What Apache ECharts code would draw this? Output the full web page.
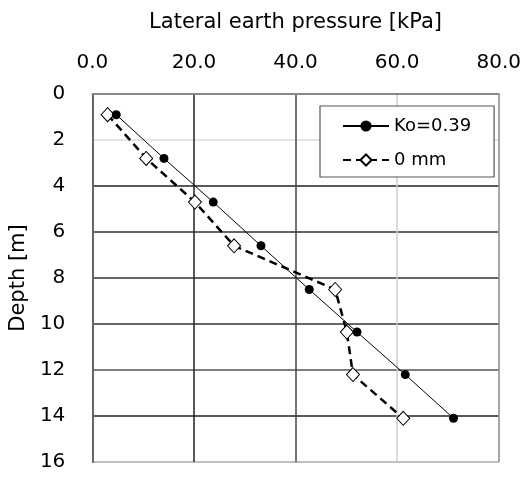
<!DOCTYPE html>
<html>
<head>
<meta charset="utf-8">
<script src="https://cdn.jsdelivr.net/npm/echarts@6/dist/echarts.min.js"></script>
<style>
  html, body { margin: 0; padding: 0; background: #fff; }
  #earth-pressure-chart { width: 524px; height: 478px; }
</style>
</head>
<body>
<div id="earth-pressure-chart"></div>
<script>
// depth of each measuring point [m]
const depths = [0.9, 2.8, 4.7, 6.6, 8.5, 10.35, 12.2, 14.1];
// lateral earth pressure [kPa]
const koValues = [4.7, 14.1, 23.8, 33.2, 42.7, 52.1, 61.6, 71.1];
const mm0Values = [3.0, 10.6, 20.2, 27.9, 47.8, 50.1, 51.3, 61.2];
const seriesNames = ["Ko=0.39", "0 mm"];
const xTicks = [0, 20, 40, 60, 80];
const yTicks = [0, 2, 4, 6, 8, 10, 12, 14, 16];

let myChart = echarts.init(document.getElementById("earth-pressure-chart"));

function pairs(values) {
  let out = [];
  for (let i = 0; i < values.length; i++) {
    out.push([values[i], depths[i]]);
  }
  return out;
}

let font = "DejaVu Sans, Arial, sans-serif";

let option = {
  animation: false,
  grid: {
    left: 92,
    right: 23,
    top: 94,
    bottom: 16,
    containLabel: false
  },
  legend: {
    orient: "vertical",
    left: 320,
    top: 106,
    padding: [11, 23, 8, 22],
    itemWidth: 46,
    itemHeight: 14,
    itemGap: 16,
    backgroundColor: "#fff",
    borderColor: "#555",
    borderWidth: 1.2,
    textStyle: {
      fontFamily: font,
      fontSize: 18,
      color: "#000"
    },
    data: seriesNames
  },
  xAxis: {
    type: "value",
    position: "top",
    min: xTicks[0],
    max: xTicks[xTicks.length - 1],
    interval: 20,
    name: "Lateral earth pressure [kPa]",
    nameLocation: "middle",
    nameGap: 61,
    nameTextStyle: { fontFamily: font, fontSize: 21, color: "#000" },
    axisLine: { show: true, lineStyle: { color: "#888", width: 2 } },
    axisTick: { show: false },
    axisLabel: {
      fontFamily: font,
      fontSize: 20,
      color: "#000",
      margin: 21,
      formatter: function(v) { return v.toFixed(1); }
    },
    splitLine: {
      show: true,
      lineStyle: { color: ["#888", "#222", "#444", "#ccc", "#888"], width: 1.5 }
    }
  },
  yAxis: {
    type: "value",
    inverse: true,
    min: yTicks[0],
    max: yTicks[yTicks.length - 1],
    interval: 2,
    name: "Depth [m]",
    nameLocation: "middle",
    nameGap: 52,
    nameTextStyle: { fontFamily: font, fontSize: 21, color: "#000" },
    axisLine: { show: true, lineStyle: { color: "#666", width: 2 } },
    axisTick: { show: false },
    axisLabel: {
      fontFamily: font,
      fontSize: 20,
      color: "#000",
      margin: 27
    },
    splitLine: {
      show: true,
      lineStyle: {
        color: ["#888", "#ddd", "#222", "#333", "#333", "#333", "#555", "#222", "#aaa"],
        width: 1.5
      }
    }
  },
  series: [
    {
      name: seriesNames[0],
      type: "line",
      data: pairs(koValues),
      symbol: "circle",
      symbolSize: 9,
      itemStyle: { color: "#000" },
      lineStyle: { color: "#000", width: 1 },
      z: 3
    },
    {
      name: seriesNames[1],
      type: "line",
      data: pairs(mm0Values),
      symbol: "diamond",
      symbolSize: [13, 14],
      itemStyle: { color: "#fff", borderColor: "#000", borderWidth: 1 },
      lineStyle: { color: "#000", width: 2.5, type: [8, 5] },
      z: 2
    }
  ]
};

myChart.setOption(option);
</script>
</body>
</html>
